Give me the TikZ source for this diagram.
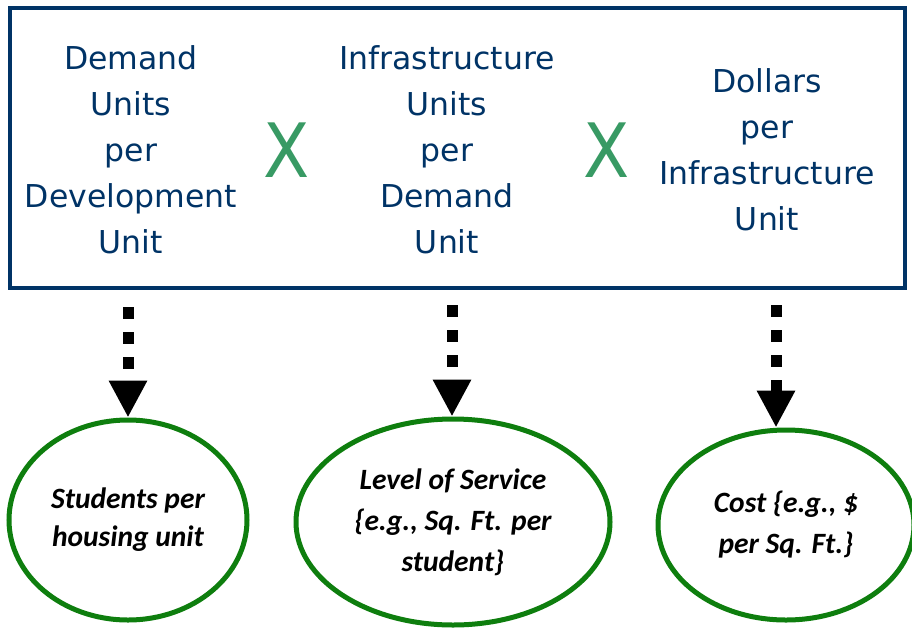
\documentclass[tikz,border=0pt]{standalone}
\usepackage{fontspec}
\usepackage{tikz}
\usetikzlibrary{arrows.meta,shapes.geometric}

\newfontfamily\boxfont{DejaVu Sans}
\newfontfamily\timesfont{DejaVu Sans Condensed}
\newfontfamily\ringfont{Carlito}
\definecolor{navy}{RGB}{0,51,102}
\definecolor{timesgreen}{RGB}{56,154,100}
\definecolor{ringgreen}{RGB}{14,126,14}

\begin{document}
\begin{tikzpicture}[x=1pt,y=-1pt,node distance=160pt,
    col node/.style={align=center,text=navy,inner sep=0pt,font=\boxfont\fontsize{31.5}{46}\selectfont},
    times node/.style={text=timesgreen,inner sep=0pt,font=\timesfont\fontsize{75}{75}\selectfont},
    ring node/.style={ellipse,draw=ringgreen,line width=5pt,align=center,inner sep=0pt,font=\ringfont\bfseries\itshape\fontsize{29.5}{38}\selectfont},
    dot arrow/.style={line width=11pt,dash pattern=on 12pt off 13pt,-{Triangle[width=36pt,length=37pt]}}
    ]

  \useasboundingbox (0,0) rectangle (912,629);
  \draw[navy,line width=4pt] (10,8) rectangle (905,288);

  \node[col node]          (demand) at (131,150) {Demand\\Units\\per\\Development\\Unit};
  \node[times node]        (x1) [right of=demand,node distance=156pt] {X};
  \node[col node]          (infra) [right of=x1] {Infrastructure\\Units\\per\\Demand\\Unit};
  \node[times node]        (x2) [right of=infra] {X};
  \node[col node]          (dollars) [right of=x2] {Dollars\\per\\Infrastructure\\Unit};

  \node[ring node,minimum width=238pt,minimum height=200pt] (students) at (128,520) {Students per\\housing unit};
  \node[ring node,minimum width=314pt,minimum height=206pt,font=\ringfont\bfseries\itshape\fontsize{29.5}{41}\selectfont] (service) at (453,522) {Level of Service\\\{e.g., Sq. Ft. per\\student\}};
  \node[ring node,minimum width=256pt,minimum height=190pt,font=\ringfont\bfseries\itshape\fontsize{29.5}{41}\selectfont] (cost) at (786,525) {Cost \{e.g., \$\\per Sq. Ft.\}};

  \coordinate (d1) at (128,307);
  \coordinate (d2) at (452,305);
  \coordinate (d3) at (776,305);

  \draw[dot arrow] (d1) -- (d1 |- students.north);
  \draw[dot arrow] (d2) -- (d2 |- service.north);
  \draw[dot arrow] (d3) -- (d3 |- cost.north);

\end{tikzpicture}
\end{document}
